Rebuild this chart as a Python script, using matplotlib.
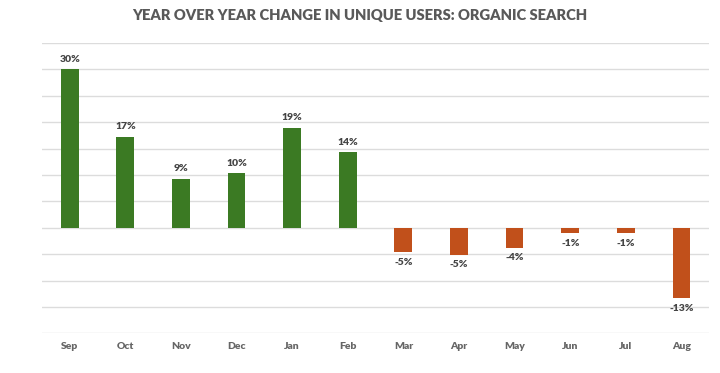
import matplotlib
matplotlib.use("Agg")
import matplotlib.pyplot as plt
import numpy as np

months = ["Sep", "Oct", "Nov", "Dec", "Jan", "Feb", "Mar", "Apr", "May", "Jun", "Jul", "Aug"]
values = [30.0, 17.2, 9.3, 10.3, 18.9, 14.3, -4.6, -5.1, -3.8, -1.0, -1.0, -13.3]
labels = ["30%", "17%", "9%", "10%", "19%", "14%", "-5%", "-5%", "-4%", "-1%", "-1%", "-13%"]
title = "YEAR OVER YEAR CHANGE IN UNIQUE USERS: ORGANIC SEARCH"

green = "#3b7a23"
orange = "#c1501b"

fig = plt.figure(figsize=(7.2, 3.73), dpi=100)
ax = fig.add_axes([0.0583, 0.1064, 0.9267, 0.7783])

x = np.arange(len(months))
colors = [green if v >= 0 else orange for v in values]
ax.bar(x, values, width=0.32, color=colors, zorder=3)

ax.set_xlim(-0.5, len(months) - 0.5)
ax.set_ylim(-20, 35)
ax.set_yticks(np.arange(-20, 36, 5))
ax.yaxis.grid(True, color="#dcdcdc", linewidth=1.0, zorder=0)
ax.tick_params(axis="y", left=False, labelleft=False)
ax.tick_params(axis="x", bottom=False, pad=3)
ax.set_xticks(x)
ax.set_xticklabels(months, fontsize=7.5, fontweight="heavy", color="#666666", family="Lato")
for s in ax.spines.values():
    s.set_visible(False)

for xi, v, lab in zip(x, values, labels):
    if v >= 0:
        ax.annotate(lab, (xi, v), xytext=(0, 4), textcoords="offset points",
                    ha="center", va="bottom", fontsize=7.5, fontweight="heavy",
                    color="#444444", family="Lato")
    else:
        ax.annotate(lab, (xi, v), xytext=(0, -4), textcoords="offset points",
                    ha="center", va="top", fontsize=7.5, fontweight="heavy",
                    color="#444444", family="Lato")

fig.text(0.5, 0.958, title, ha="center", va="center", fontsize=10.6,
         fontweight="heavy", color="#595959", family="Lato")

fig.savefig("out.png", dpi=100)
